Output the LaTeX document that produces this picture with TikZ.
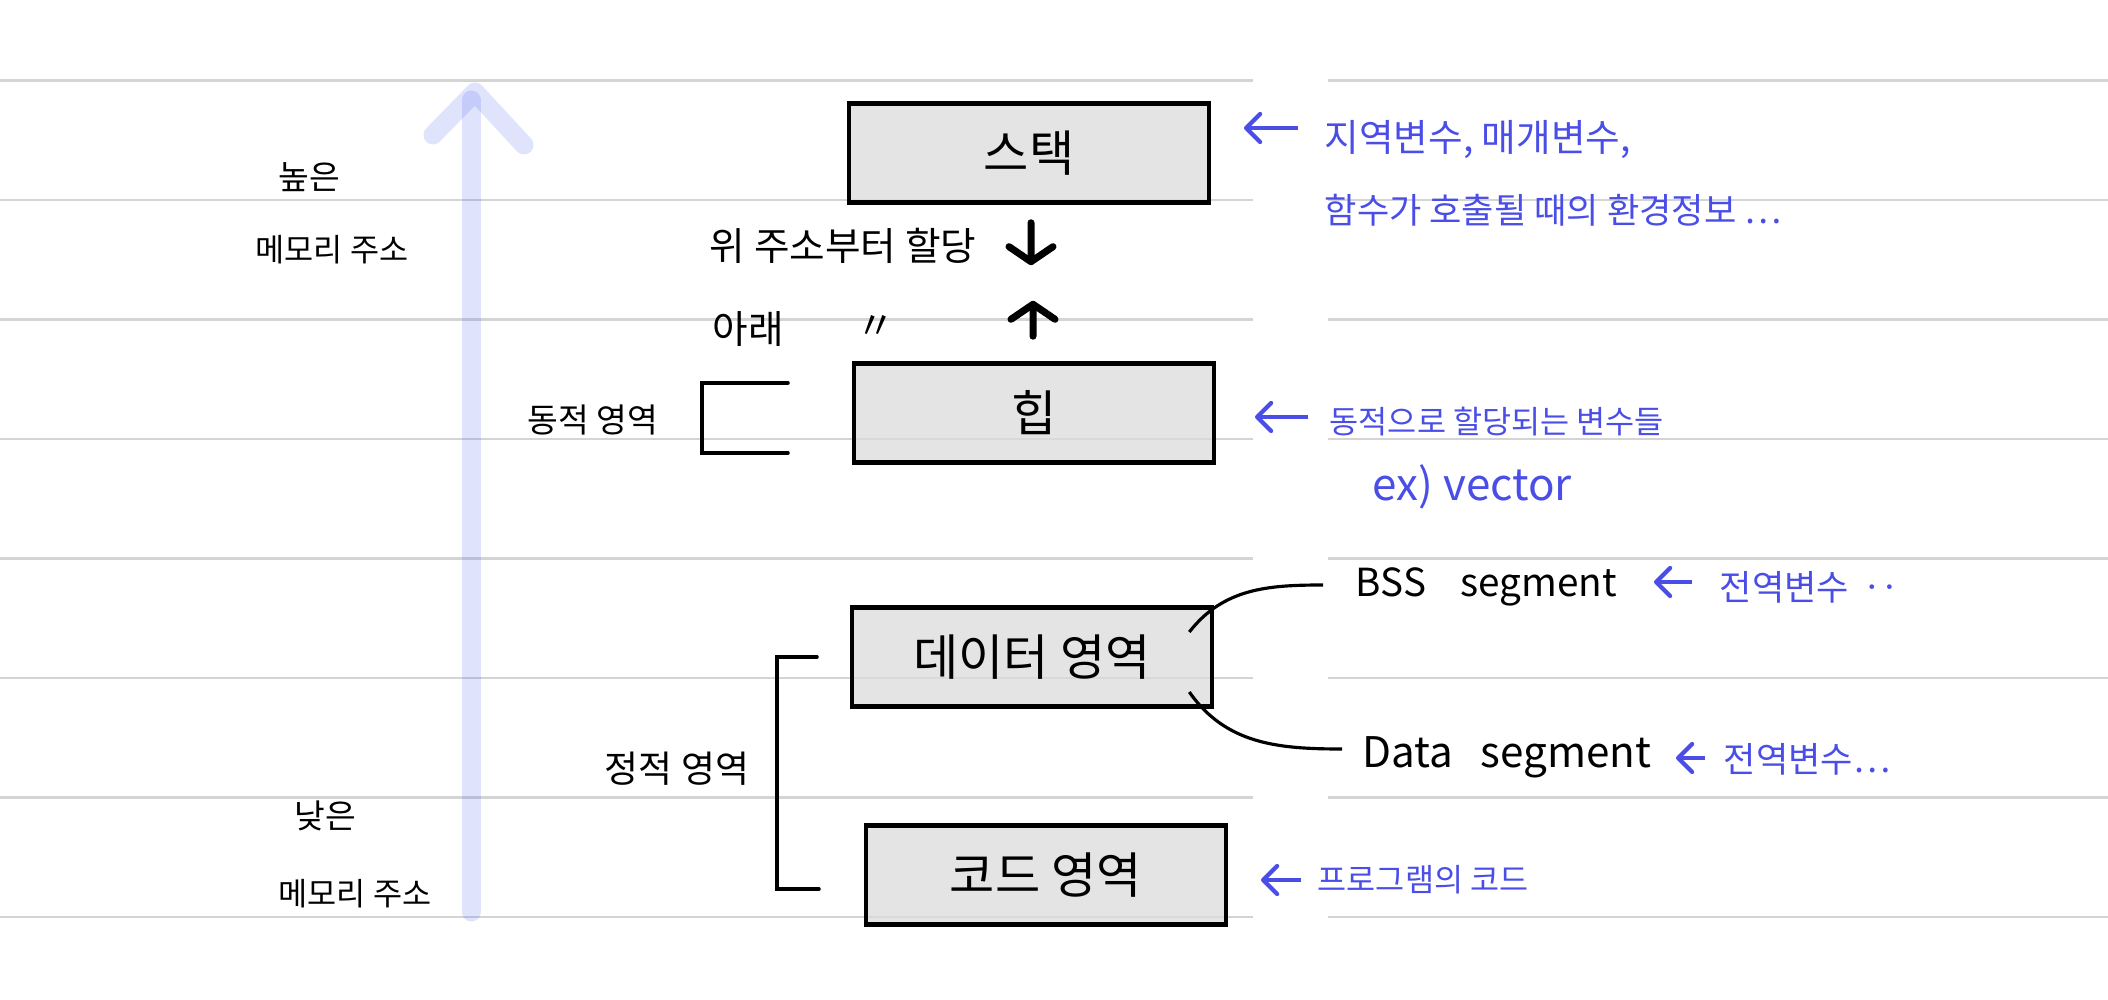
\documentclass[tikz,border=0pt]{standalone}
\usepackage{fontspec}
\setmainfont{Noto Sans CJK KR}
\usetikzlibrary{arrows.meta}
\definecolor{penblue}{RGB}{74,78,230}
\definecolor{ruled}{RGB}{212,212,212}
\definecolor{glow}{RGB}{80,100,240}
\tikzset{
	area/.style={draw,line width=1.3pt,fill=black!14,fill opacity=0.75,text opacity=1,minimum width=3.6cm,minimum height=0.99cm,font=\fontsize{14}{16}\selectfont},
	memo/.style={font=\fontsize{#1}{#1}\selectfont},
	note/.style={anchor=west,inner sep=0pt,text=penblue,font=\fontsize{#1}{#1}\selectfont},
	pointer/.style={penblue,line width=1.2pt,-{Straight Barb[length=1.4mm,width=2.8mm,round]}},
	growarrow/.style={line width=2pt,line cap=round,-{Straight Barb[length=1.5mm,width=4.4mm,round]}},
	rangeline/.style={line width=1pt,line cap=round},
	ruleline/.style={ruled,line width=0.8pt}
}

\begin{document}
\begin{tikzpicture}
	\useasboundingbox (0,0) rectangle (21.08,-10);

	% ruled paper
	\foreach \i in {0,...,7}{
		\pgfmathsetmacro{\ry}{-0.805-1.195*\i}
		\draw[ruleline] (0,\ry) -- (12.53,\ry);
		\draw[ruleline] (13.28,\ry) -- (21.08,\ry);
	}

	% address direction
	\draw[glow,draw opacity=0.18,line width=0.19cm,line cap=round] (4.71,-9.12) -- (4.71,-1.0);
	\draw[glow,draw opacity=0.18,line width=0.19cm,line cap=round,line join=round] (4.33,-1.35) -- (4.75,-0.92) -- (5.24,-1.45);

	\node[memo=9.5] (high) at (3.09,-1.77) {높은};
	\node[memo=9] (highaddr) at (3.32,-2.50) {메모리 주소};
	\node[memo=9.5] (low) at (3.25,-8.16) {낮은};
	\node[memo=9] (lowaddr) at (3.55,-8.94) {메모리 주소};

	% memory areas
	\node[area] (stack) at (10.29,-1.53) {스택};
	\node[area] (heap) at (10.34,-4.13) {힙};
	\node[area] (data) at (10.32,-6.57) {데이터 영역};
	\node[area] (code) at (10.46,-8.75) {코드 영역};

	\draw[growarrow] ([xshift=0.02cm,yshift=-0.18cm]stack.south) -- ([xshift=-0.03cm,yshift=0.96cm]heap.north);
	\draw[growarrow] ([xshift=-0.01cm,yshift=0.25cm]heap.north) -- ([xshift=0.04cm,yshift=-0.96cm]stack.south);

	\node[memo=11] (fromtop) at (8.43,-2.46) {위 주소부터 할당};
	\node[memo=11] (frombottom) at (7.48,-3.29) {아래};
	\node[memo=11] (ditto) at (8.76,-3.27) {〃};

	\node[memo=9.5] (dynamic) at (5.93,-4.20) {동적 영역};
	\draw[rangeline] (7.88,-3.83) -- (7.02,-3.83) -- (7.02,-4.53) -- (7.88,-4.53);

	\node[memo=10.5] (static) at (6.77,-7.69) {정적 영역};
	\draw[rangeline] (8.17,-6.57) -- (7.77,-6.57) -- (7.77,-8.89) -- (8.19,-8.89);

	% segments of the data area
	\node[anchor=west,inner sep=0pt,memo=11] (bss) at (13.55,-5.87) {BSS\hspace{0.9em}segment};
	\node[anchor=west,inner sep=0pt,memo=12] (dataseg) at (13.62,-7.57) {Data\hspace{0.65em}segment};
	\draw[line width=0.9pt] ([shift={(-0.25,0.25)}]data.east) to[out=52,in=180] ([xshift=-0.32cm,yshift=0.02cm]bss.west);
	\draw[line width=0.9pt] ([shift={(-0.25,-0.35)}]data.east) to[out=-55,in=180] ([xshift=-0.2cm,yshift=0.08cm]dataseg.west);

	% notes
	\node[note=10.7] (stacknote) at (13.24,-1.40) {지역변수, 매개변수,};
	\node[note=10] (stackinfo) at (13.24,-2.10) {함수가 호출될 때의 환경정보 …};
	\draw[pointer] ([xshift=-0.26cm,yshift=0.12cm]stacknote.west) -- ++(-0.54,0);

	\node[note=9] (heapnote) at (13.29,-4.22) {동적으로 할당되는 변수들};
	\node[note=12.5] (heapex) at (13.72,-4.87) {ex) vector};
	\draw[pointer] ([xshift=-0.21cm,yshift=0.05cm]heapnote.west) -- ++(-0.53,0);

	\node[note=10] (bssnote) at (17.19,-5.87) {전역변수\hspace{0.4em}‥};
	\draw[pointer] ([xshift=-0.27cm,yshift=0.05cm]bssnote.west) -- ++(-0.38,0);

	\node[note=10] (datanote) at (17.23,-7.59) {전역변수…};
	\draw[pointer] ([xshift=-0.18cm,yshift=0.01cm]datanote.west) -- ++(-0.29,0);

	\node[note=9] (codenote) at (13.17,-8.80) {프로그램의 코드};
	\draw[pointer] ([xshift=-0.16cm]codenote.west) -- ++(-0.40,0);
\end{tikzpicture}
\end{document}
